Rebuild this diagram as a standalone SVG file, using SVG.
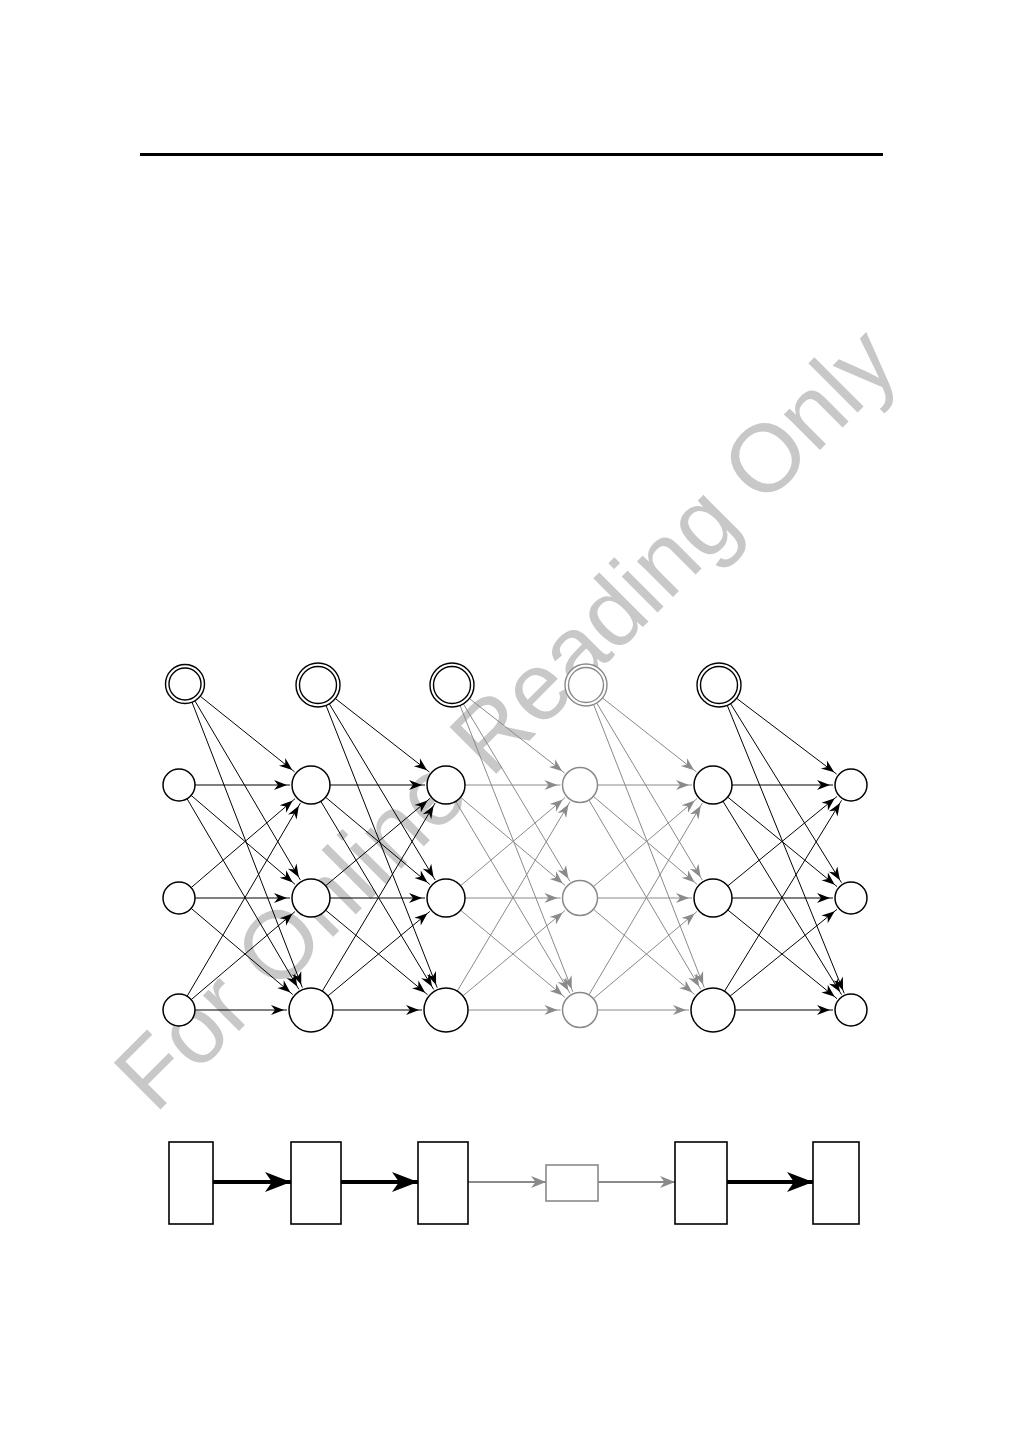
<svg xmlns="http://www.w3.org/2000/svg" width="1009" height="1441" viewBox="0 0 1009 1441">
<style>
.wm{font-family:"Liberation Sans",Arial,sans-serif;font-size:96px;fill:#c8c8c8}
.n{fill:#fff;stroke:#000;stroke-width:1.5}
.ng{fill:#fff;stroke:#8a8a8a;stroke-width:1.5}
.b{fill:#fff;stroke:#000;stroke-width:1.4}
.bg{fill:#fff;stroke:#8a8a8a;stroke-width:1.4}
.e{stroke:#000;stroke-width:1;fill:none;marker-end:url(#ah)}
.eg{stroke:#8a8a8a;stroke-width:1;fill:none;marker-end:url(#ahg)}
.box{fill:#fff;stroke:#000;stroke-width:1.6}
.boxg{fill:#fff;stroke:#8a8a8a;stroke-width:1.6}
.thick{stroke:#000;stroke-width:4;fill:none;marker-end:url(#ahT)}
.gl{stroke:#8a8a8a;stroke-width:2;fill:none;marker-end:url(#ahG2)}
</style>
<defs>
<marker id="ah" markerUnits="userSpaceOnUse" markerWidth="20" markerHeight="20" refX="3" refY="0" orient="auto" viewBox="-15 -10 20 20" overflow="visible"><path d="M0,0 L-13,-5 L-9,0 L-13,5 Z" fill="#000"/></marker>
<marker id="ahg" markerUnits="userSpaceOnUse" markerWidth="20" markerHeight="20" refX="3" refY="0" orient="auto" viewBox="-15 -10 20 20" overflow="visible"><path d="M0,0 L-13,-5 L-9,0 L-13,5 Z" fill="#8a8a8a"/></marker>
<marker id="ahT" markerUnits="userSpaceOnUse" markerWidth="40" markerHeight="30" refX="0" refY="0" orient="auto" viewBox="-30 -15 40 30" overflow="visible"><path d="M0,0 L-26,-10 L-19,0 L-26,10 Z" fill="#000"/></marker>
<marker id="ahG2" markerUnits="userSpaceOnUse" markerWidth="30" markerHeight="20" refX="0" refY="0" orient="auto" viewBox="-20 -10 30 20" overflow="visible"><path d="M0,0 L-15,-6 L-10.5,0 L-15,6 Z" fill="#8a8a8a"/></marker>
</defs>
<rect x="0" y="0" width="1009" height="1441" fill="#fff"/>
<text class="wm" transform="translate(155,1115) rotate(-45)">For Online Reading Only</text>
<line x1="140" y1="154.5" x2="883" y2="154.5" stroke="#000" stroke-width="3"/>
<g id="connectors">
<line class="e" x1="200.22" y1="696.20" x2="294.61" y2="771.86"/>
<line class="e" x1="194.89" y1="700.80" x2="300.34" y2="879.90"/>
<line class="e" x1="192.03" y1="702.19" x2="302.35" y2="987.61"/>
<line class="e" x1="195" y1="785" x2="290" y2="785"/>
<line class="e" x1="191.16" y1="795.40" x2="295.05" y2="884.34"/>
<line class="e" x1="187.10" y1="798.80" x2="298.86" y2="989.30"/>
<line class="e" x1="191.16" y1="887.60" x2="295.05" y2="798.66"/>
<line class="e" x1="195" y1="898" x2="290" y2="898"/>
<line class="e" x1="191.20" y1="908.35" x2="292.70" y2="994.47"/>
<line class="e" x1="187.10" y1="996.20" x2="300.37" y2="803.11"/>
<line class="e" x1="191.20" y1="999.65" x2="294.99" y2="911.59"/>
<line class="e" x1="195" y1="1010" x2="287" y2="1010"/>
<line class="e" x1="335.34" y1="698.54" x2="429.45" y2="772.07"/>
<line class="e" x1="329.33" y1="703.86" x2="435.18" y2="880.00"/>
<line class="e" x1="326.06" y1="705.47" x2="437.20" y2="987.67"/>
<line class="e" x1="330" y1="785" x2="425" y2="785"/>
<line class="e" x1="325.57" y1="797.20" x2="429.90" y2="884.52"/>
<line class="e" x1="320.78" y1="801.29" x2="433.65" y2="989.42"/>
<line class="e" x1="325.57" y1="885.80" x2="429.90" y2="798.48"/>
<line class="e" x1="330" y1="898" x2="425" y2="898"/>
<line class="e" x1="325.62" y1="910.13" x2="427.53" y2="994.68"/>
<line class="e" x1="322.32" y1="991.13" x2="435.20" y2="803.01"/>
<line class="e" x1="327.93" y1="995.95" x2="429.84" y2="911.41"/>
<line class="e" x1="333" y1="1010" x2="422" y2="1010"/>
<line class="eg" x1="469.34" y1="698.54" x2="564.63" y2="773.00"/>
<line class="eg" x1="463.33" y1="703.86" x2="569.96" y2="881.29"/>
<line class="eg" x1="460.06" y1="705.47" x2="572.85" y2="991.86"/>
<line class="eg" x1="465" y1="785" x2="560.5" y2="785"/>
<line class="eg" x1="460.53" y1="797.25" x2="565.09" y2="885.43"/>
<line class="eg" x1="455.72" y1="801.32" x2="570.02" y2="993.25"/>
<line class="eg" x1="460.53" y1="885.75" x2="565.09" y2="797.57"/>
<line class="eg" x1="465" y1="898" x2="560.5" y2="898"/>
<line class="eg" x1="460.58" y1="910.18" x2="565.04" y2="997.49"/>
<line class="eg" x1="457.26" y1="991.10" x2="570.02" y2="801.75"/>
<line class="eg" x1="462.88" y1="995.89" x2="565.04" y2="910.51"/>
<line class="eg" x1="468" y1="1010" x2="560.5" y2="1010"/>
<line class="eg" x1="602.50" y1="697.99" x2="696.50" y2="772.01"/>
<line class="eg" x1="596.75" y1="703.04" x2="702.25" y2="879.96"/>
<line class="eg" x1="593.64" y1="704.56" x2="704.26" y2="987.65"/>
<line class="eg" x1="597.5" y1="785" x2="692" y2="785"/>
<line class="eg" x1="593.34" y1="796.33" x2="697.00" y2="884.40"/>
<line class="eg" x1="588.91" y1="800.07" x2="700.79" y2="989.34"/>
<line class="eg" x1="593.34" y1="886.67" x2="697.00" y2="798.60"/>
<line class="eg" x1="597.5" y1="898" x2="692" y2="898"/>
<line class="eg" x1="593.39" y1="909.27" x2="694.64" y2="994.54"/>
<line class="eg" x1="588.91" y1="994.93" x2="702.31" y2="803.08"/>
<line class="eg" x1="593.39" y1="998.73" x2="696.94" y2="911.53"/>
<line class="eg" x1="597.5" y1="1010" x2="689" y2="1010"/>
<line class="e" x1="736.54" y1="698.29" x2="836.65" y2="774.13"/>
<line class="e" x1="730.59" y1="703.70" x2="841.52" y2="882.70"/>
<line class="e" x1="727.28" y1="705.38" x2="844.23" y2="993.32"/>
<line class="e" x1="732" y1="785" x2="833" y2="785"/>
<line class="e" x1="727.70" y1="797.04" x2="837.07" y2="886.60"/>
<line class="e" x1="722.93" y1="801.20" x2="841.59" y2="994.66"/>
<line class="e" x1="727.70" y1="885.96" x2="837.07" y2="796.40"/>
<line class="e" x1="732" y1="898" x2="833" y2="898"/>
<line class="e" x1="727.75" y1="909.97" x2="837.02" y2="998.66"/>
<line class="e" x1="724.50" y1="991.25" x2="841.59" y2="800.34"/>
<line class="e" x1="730.08" y1="996.14" x2="837.02" y2="909.34"/>
<line class="e" x1="735" y1="1010" x2="833" y2="1010"/>
<line class="thick" x1="213" y1="1182" x2="291" y2="1182"/>
<line class="thick" x1="341" y1="1182" x2="418" y2="1182"/>
<line class="gl" x1="468" y1="1182" x2="546" y2="1182"/>
<line class="gl" x1="598" y1="1182" x2="675" y2="1182"/>
<line class="thick" x1="727" y1="1182" x2="813" y2="1182"/>
</g>
<g id="bias0"><circle class="b" cx="185" cy="684" r="19.5"/><circle class="b" cx="185" cy="684" r="16"/></g>
<g id="bias1"><circle class="b" cx="318" cy="685" r="22"/><circle class="b" cx="318" cy="685" r="18.5"/></g>
<g id="bias2"><circle class="b" cx="452" cy="685" r="22"/><circle class="b" cx="452" cy="685" r="18.5"/></g>
<g id="bias3"><circle class="bg" cx="586" cy="685" r="21"/><circle class="bg" cx="586" cy="685" r="17.5"/></g>
<g id="bias4"><circle class="b" cx="719" cy="685" r="22"/><circle class="b" cx="719" cy="685" r="18.5"/></g>
<g id="n00"><circle class="n" cx="179" cy="785" r="16"/></g>
<g id="n01"><circle class="n" cx="179" cy="898" r="16"/></g>
<g id="n02"><circle class="n" cx="179" cy="1010" r="16"/></g>
<g id="n10"><circle class="n" cx="311" cy="785" r="19"/></g>
<g id="n11"><circle class="n" cx="311" cy="898" r="19"/></g>
<g id="n12"><circle class="n" cx="311" cy="1010" r="22"/></g>
<g id="n20"><circle class="n" cx="446" cy="785" r="19"/></g>
<g id="n21"><circle class="n" cx="446" cy="898" r="19"/></g>
<g id="n22"><circle class="n" cx="446" cy="1010" r="22"/></g>
<g id="n30"><circle class="ng" cx="580" cy="785" r="17.5"/></g>
<g id="n31"><circle class="ng" cx="580" cy="898" r="17.5"/></g>
<g id="n32"><circle class="ng" cx="580" cy="1010" r="17.5"/></g>
<g id="n40"><circle class="n" cx="713" cy="785" r="19"/></g>
<g id="n41"><circle class="n" cx="713" cy="898" r="19"/></g>
<g id="n42"><circle class="n" cx="713" cy="1010" r="22"/></g>
<g id="n50"><circle class="n" cx="851" cy="785" r="16"/></g>
<g id="n51"><circle class="n" cx="851" cy="898" r="16"/></g>
<g id="n52"><circle class="n" cx="851" cy="1010" r="16"/></g>
<g id="box1"><rect class="box" x="169" y="1142" width="44" height="82"/></g>
<g id="box2"><rect class="box" x="291" y="1142" width="50" height="82"/></g>
<g id="box3"><rect class="box" x="418" y="1142" width="50" height="82"/></g>
<g id="box4"><rect class="boxg" x="546" y="1165" width="52" height="36"/></g>
<g id="box5"><rect class="box" x="675" y="1142" width="52" height="82"/></g>
<g id="box6"><rect class="box" x="813" y="1142" width="46" height="82"/></g>
</svg>
